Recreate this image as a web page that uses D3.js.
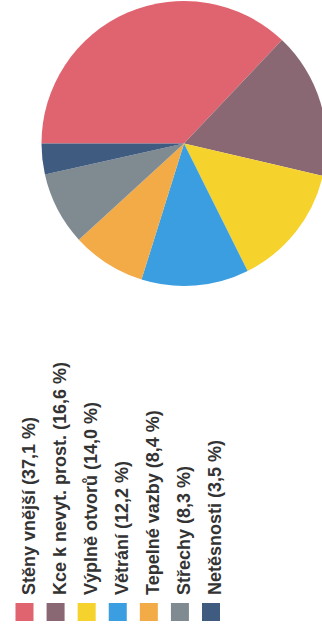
<!DOCTYPE html>
<html>
<head>
<meta charset="utf-8">
<script src="https://cdn.jsdelivr.net/npm/d3@7"></script>
<style>
  html, body { margin: 0; padding: 0; background: #fff; }
  svg { display: block; }
</style>
</head>
<body>
<svg id="chart" width="322" height="634"></svg>
<script>
const categories = ["Stěny vnější", "Kce k nevyt. prost.", "Výplně otvorů", "Větrání", "Tepelné vazby", "Střechy", "Netěsnosti"];
const values = [37.1, 16.6, 14.0, 12.2, 8.4, 8.3, 3.5];
const valueLabels = ["37,1", "16,6", "14,0", "12,2", "8,4", "8,3", "3,5"];
const colors = ["#e0646f", "#8a6873", "#f6d22c", "#3a9ee0", "#f2ab46", "#7f8a91", "#3f5b80"];

const svg = d3.select("#chart");
const data = categories.map((c, i) => ({ name: c, value: values[i], label: valueLabels[i] }));

const color = d3.scaleOrdinal().domain(categories).range(colors);

// Pie (chart rotated 90° counter-clockwise: start at 9 o'clock, clockwise)
const cx = 184, cy = 143.5, r = 142.5;
const pie = d3.pie().value(d => d.value).sort(null)
  .startAngle(-Math.PI / 2).endAngle(3 * Math.PI / 2);
const arc = d3.arc().innerRadius(0).outerRadius(r);

svg.append("g")
  .attr("transform", `translate(${cx},${cy})`)
  .selectAll("path")
  .data(pie(data))
  .join("path")
  .attr("d", arc)
  .attr("fill", d => color(d.data.name));

// Legend (rotated text, reading bottom to top)
const legendX = d3.scalePoint().domain(categories).range([24.5, 211]);
const sw = 18;
const lg = svg.append("g");
const items = lg.selectAll("g").data(data).join("g")
  .attr("transform", d => `translate(${legendX(d.name)},0)`);

items.append("rect")
  .attr("x", -sw / 2).attr("y", 603)
  .attr("width", sw).attr("height", sw)
  .attr("fill", d => color(d.name));

items.append("text")
  .attr("transform", "translate(10,595) rotate(-90)")
  .attr("text-anchor", "start")
  .attr("font-family", "'Liberation Sans', Arial, sans-serif")
  .attr("font-weight", "bold")
  .attr("font-size", 18)
  .attr("fill", "#333")
  .text(d => `${d.name} (${d.label} %)`);
</script>
</body>
</html>
